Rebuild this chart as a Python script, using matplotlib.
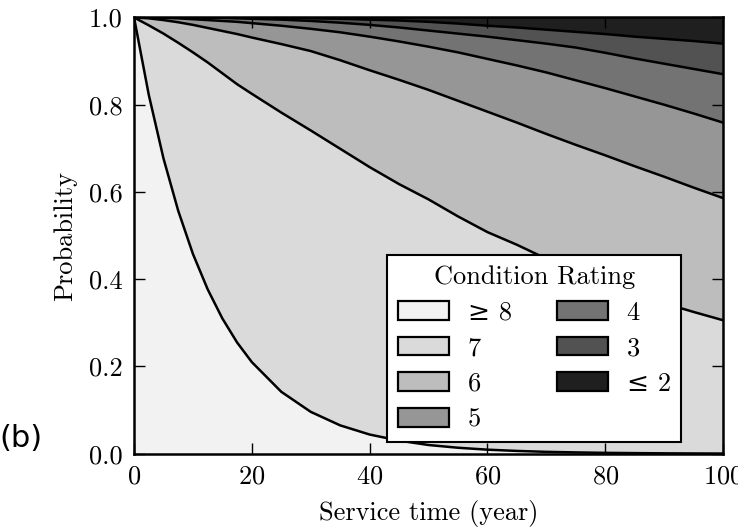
import matplotlib
matplotlib.use("Agg")
import matplotlib.pyplot as plt
from matplotlib.patches import Patch

plt.rcParams['font.family'] = 'serif'
plt.rcParams['font.serif'] = ['cmr10']
plt.rcParams['mathtext.fontset'] = 'cm'
plt.rcParams['axes.formatter.use_mathtext'] = True

# Service time (years)
t = [0, 2.5, 5, 7.5, 10, 12.5, 15, 17.5, 20, 25, 30, 35, 40, 45, 50,
     55, 60, 65, 70, 75, 80, 85, 90, 95, 100]

# Cumulative probability boundaries P(rating >= k)
p_ge8 = [1.0, 0.823, 0.677, 0.557, 0.458, 0.377, 0.31, 0.255, 0.21, 0.142,
         0.096, 0.065, 0.044, 0.030, 0.020, 0.0137, 0.0093, 0.0064, 0.0043,
         0.003, 0.002, 0.0014, 0.0009, 0.0006, 0.0004]
p_ge7 = [1.0, 0.982, 0.963, 0.942, 0.92, 0.897, 0.872, 0.847, 0.825, 0.782,
         0.741, 0.699, 0.657, 0.618, 0.583, 0.544, 0.508, 0.479, 0.447, 0.42,
         0.393, 0.368, 0.345, 0.325, 0.306]
p_ge6 = [1.0, 0.998, 0.994, 0.989, 0.983, 0.976, 0.969, 0.962, 0.954, 0.939,
         0.923, 0.902, 0.879, 0.857, 0.834, 0.809, 0.784, 0.759, 0.733, 0.708,
         0.684, 0.659, 0.635, 0.61, 0.586]
p_ge5 = [1.0, 1.0, 0.999, 0.998, 0.996, 0.994, 0.992, 0.99, 0.987, 0.981,
         0.974, 0.966, 0.956, 0.945, 0.933, 0.92, 0.905, 0.89, 0.874, 0.856,
         0.838, 0.819, 0.8, 0.78, 0.759]
p_ge4 = [1.0, 1.0, 1.0, 1.0, 1.0, 0.999, 0.999, 0.998, 0.997, 0.995,
         0.992, 0.988, 0.983, 0.977, 0.97, 0.963, 0.956, 0.948, 0.94, 0.931,
         0.919, 0.906, 0.894, 0.882, 0.87]
p_ge3 = [1.0, 1.0, 1.0, 1.0, 1.0, 1.0, 1.0, 1.0, 1.0, 0.999,
         0.998, 0.997, 0.995, 0.993, 0.99, 0.986, 0.981, 0.977, 0.972, 0.967,
         0.962, 0.956, 0.951, 0.946, 0.94]

labels = ['\u2265 8', '7', '6', '5', '4', '3', '\u2264 2']
colors = ['#f2f2f2', '#dadada', '#bdbdbd', '#969696', '#737373', '#525252', '#1f1f1f']

zeros = [0.0] * len(t)
ones = [1.0] * len(t)
bounds = [zeros, p_ge8, p_ge7, p_ge6, p_ge5, p_ge4, p_ge3, ones]

fig = plt.figure(figsize=(7.38, 5.29), dpi=100)
ax = fig.add_axes([0.1816, 0.1423, 0.7981, 0.8247])

for i in range(7):
    ax.fill_between(t, bounds[i], bounds[i + 1], facecolor=colors[i],
                    edgecolor='none', linewidth=0)
for b in bounds[1:7]:
    ax.plot(t, b, color='black', lw=1.8)

ax.set_xlim(0, 100)
ax.set_ylim(0, 1)
ax.set_xticks([0, 20, 40, 60, 80, 100])
ax.set_yticks([0.0, 0.2, 0.4, 0.6, 0.8, 1.0])
ax.set_yticklabels(['0.0', '0.2', '0.4', '0.6', '0.8', '1.0'])
ax.tick_params(direction='in', length=8, width=1, top=True, right=True,
               labelsize=19, pad=8)
for s in ax.spines.values():
    s.set_linewidth(1.8)

ax.set_xlabel('Service time (year)', fontsize=19, labelpad=8)
ax.set_ylabel('Probability', fontsize=19, labelpad=9)

handles = [Patch(facecolor=c, edgecolor='black', linewidth=1.6) for c in colors]
leg = ax.legend(handles, labels, ncol=2, loc='lower right',
                bbox_to_anchor=(0.929, 0.027), borderaxespad=0,
                title='Condition Rating', title_fontsize=19,
                prop={'family': ['cmr10', 'DejaVu Serif'], 'size': 19},
                fancybox=False, framealpha=1, edgecolor='black',
                handlelength=1.95, handleheight=0.72, labelspacing=0.45,
                columnspacing=1.7, handletextpad=0.7, borderpad=0.4)
leg.get_frame().set_linewidth(1.5)

fig.text(0.028, 0.172, '(b)', fontsize=22, family='DejaVu Sans',
         ha='center', va='center')

fig.savefig('out.png', dpi=100)
